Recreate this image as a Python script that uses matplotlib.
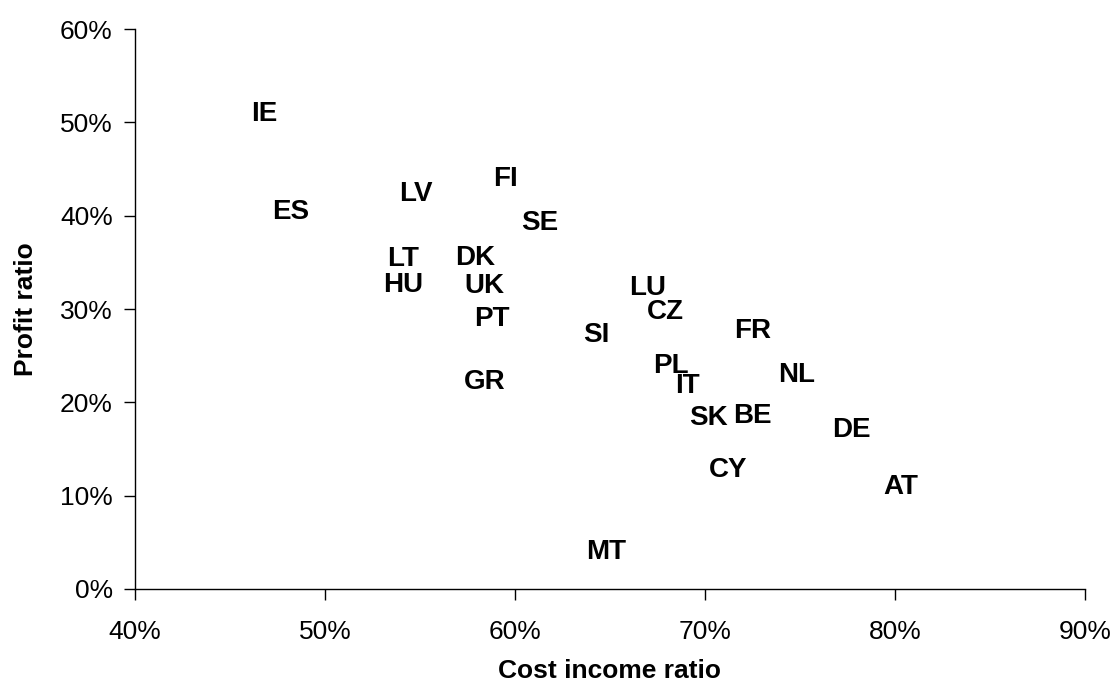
import matplotlib
matplotlib.use("Agg")
import matplotlib.pyplot as plt
from matplotlib.ticker import FuncFormatter

countries = ["IE", "ES", "LV", "FI", "SE", "LT", "HU", "DK", "UK", "PT", "GR", "SI",
             "MT", "LU", "CZ", "PL", "IT", "SK", "CY", "FR", "BE", "NL", "DE", "AT"]
cost_income = [46.8, 48.2, 54.8, 59.5, 61.3, 54.1, 54.1, 57.9, 58.4, 58.8, 58.4, 64.3,
               64.8, 67.0, 67.9, 68.2, 69.1, 70.2, 71.2, 72.5, 72.5, 74.8, 77.7, 80.3]
profit = [51.2, 40.7, 42.6, 44.2, 39.5, 35.7, 32.9, 35.8, 32.8, 29.2, 22.5, 27.5,
          4.3, 32.6, 30.0, 24.2, 22.1, 18.6, 13.1, 28.0, 18.9, 23.3, 17.4, 11.3]

plt.rcParams['font.family'] = ['Liberation Sans', 'DejaVu Sans']

fig = plt.figure(figsize=(11.11, 6.84), dpi=100)
ax = fig.add_axes([135/1111, (684-589)/684, (1085-135)/1111, (589-29)/684])

ax.scatter(cost_income, profit, s=0, alpha=0)
for c, x, y in zip(countries, cost_income, profit):
    ax.text(x, y, c, ha='center', va='center_baseline', fontsize=20,
            fontweight='bold', color='black')

ax.set_xlim(40, 90)
ax.set_ylim(0, 60)
ax.set_xticks(range(40, 91, 10))
ax.set_yticks(range(0, 61, 10))
fmt = FuncFormatter(lambda v, p: f"{v:.0f}%")
ax.xaxis.set_major_formatter(fmt)
ax.yaxis.set_major_formatter(fmt)
ax.tick_params(direction='out', length=8, width=1, labelsize=19)
ax.tick_params(axis='x', pad=14)
ax.tick_params(axis='y', pad=8)
ax.spines['top'].set_visible(False)
ax.spines['right'].set_visible(False)
ax.spines['left'].set_linewidth(1)
ax.spines['bottom'].set_linewidth(1)

ax.set_xlabel("Cost income ratio", fontsize=19, fontweight='bold', labelpad=11)
ax.set_ylabel("Profit ratio", fontsize=19, fontweight='bold', labelpad=16)

fig.savefig("out.png", dpi=100)
